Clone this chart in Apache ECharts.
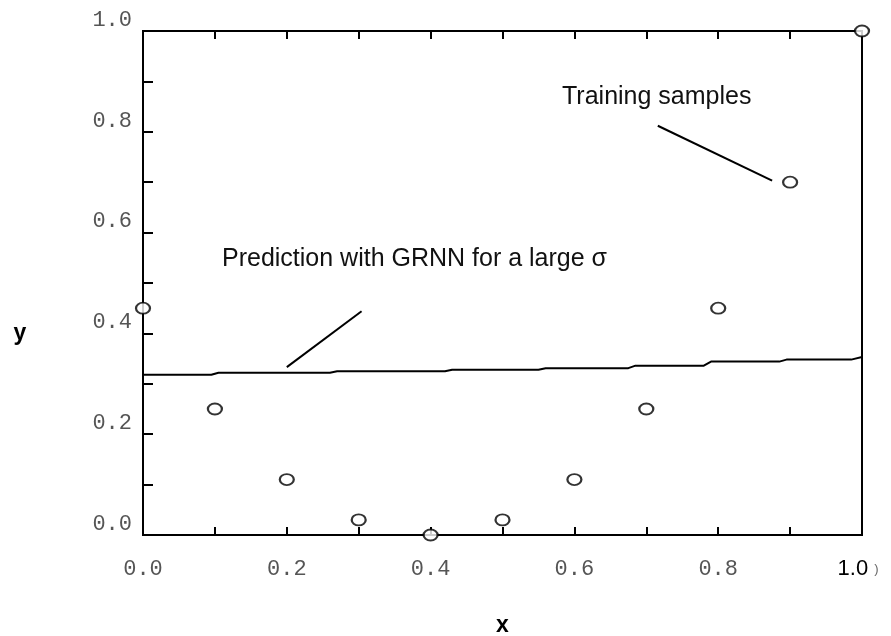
<!DOCTYPE html>
<html>
<head>
<meta charset="utf-8">
<script src="https://cdn.jsdelivr.net/npm/echarts@6/dist/echarts.min.js"></script>
<style>
  html, body { margin: 0; padding: 0; background: #fff; }
  #chart { width: 891px; height: 636px; }
</style>
</head>
<body>
<div id="chart"></div>
<script>
// training samples (x, y)
const sampleX = [0.0, 0.1, 0.2, 0.3, 0.4, 0.5, 0.6, 0.7, 0.8, 0.9, 1.0]
const sampleY = [0.45, 0.25, 0.11, 0.03, 0.0, 0.03, 0.11, 0.25, 0.45, 0.70, 1.0]

// GRNN prediction, large sigma (step-like)
const predX = [0.0, 0.095, 0.105, 0.26, 0.27, 0.42, 0.43, 0.55, 0.56, 0.675, 0.685, 0.78, 0.79, 0.885, 0.895, 0.985, 1.0]
const predY = [0.318, 0.318, 0.322, 0.322, 0.325, 0.325, 0.328, 0.328, 0.331, 0.331, 0.336, 0.336, 0.344, 0.344, 0.348, 0.348, 0.353]

// annotation leader lines, in data coords
const leaderSamples = [[0.716, 0.812], [0.875, 0.703]]
const leaderPred = [[0.200, 0.333], [0.304, 0.444]]

const chart = echarts.init(document.getElementById('chart'), null, { renderer: 'canvas' })

const monoLabel = { fontFamily: 'Liberation Mono', fontSize: 22, color: '#555' }
const tickStyle = { color: '#000', width: 2 }
const nameFont = 'bold 23px "Liberation Sans"'

const option = {
  animation: false,
  backgroundColor: '#fff',
  grid: {
    left: 143, right: 29, top: 31, bottom: 101,
    outerBoundsMode: 'none', containLabel: false,
    show: true, borderColor: '#000', borderWidth: 2, backgroundColor: 'transparent'
  },
  xAxis: [
    {
      type: 'value', min: 0, max: 1, interval: 0.2, position: 'bottom',
      name: 'x', nameLocation: 'middle', nameGap: 79,
      nameTextStyle: { fontFamily: 'Liberation Sans', fontWeight: 'bold', fontSize: 23, color: '#000' },
      axisLine: { show: true, lineStyle: tickStyle },
      axisTick: { show: true, inside: true, length: 8, lineStyle: tickStyle },
      minorTick: { show: true, splitNumber: 2, length: 8, lineStyle: tickStyle },
      splitLine: { show: false },
      axisLabel: {
        ...monoLabel, margin: 23,
        formatter: v => v === 1 ? '{b|1.0}{c|)}' : v.toFixed(1),
        rich: {
          b: { fontFamily: 'Liberation Sans', fontSize: 22, color: '#000' },
          c: { fontFamily: 'Liberation Sans', fontSize: 13, color: '#666', padding: [0, 8, 0, 6] }
        }
      }
    },
    {
      type: 'value', min: 0, max: 1, interval: 0.1, position: 'top',
      axisLine: { show: false },
      axisTick: { show: true, inside: true, length: 8, lineStyle: tickStyle },
      axisLabel: { show: false },
      splitLine: { show: false }
    }
  ],
  yAxis: [
    {
      type: 'value', min: 0, max: 1, interval: 0.2,
      axisLine: { show: true, lineStyle: tickStyle },
      axisTick: { show: true, inside: true, length: 10, lineStyle: tickStyle },
      minorTick: { show: true, splitNumber: 2, length: 10, lineStyle: tickStyle },
      splitLine: { show: false },
      axisLabel: { ...monoLabel, margin: 11, verticalAlign: 'bottom', formatter: v => v.toFixed(1) }
    }
  ],
  series: [
    {
      name: 'Prediction', type: 'line',
      data: predX.map((x, i) => [x, predY[i]]),
      showSymbol: false, symbol: 'none',
      lineStyle: { color: '#000', width: 2 },
      markLine: {
        silent: true, symbol: 'none',
        lineStyle: { color: '#000', width: 2, type: 'solid' },
        label: { show: false },
        data: [
          [{ coord: leaderSamples[0] }, { coord: leaderSamples[1] }],
          [{ coord: leaderPred[0] }, { coord: leaderPred[1] }]
        ]
      }
    },
    {
      name: 'Training samples', type: 'scatter',
      data: sampleX.map((x, i) => [x, sampleY[i]]),
      symbol: 'circle', symbolSize: [14, 11],
      itemStyle: { color: '#fff', borderColor: '#000', borderWidth: 2 },
      clip: false, z: 5
    }
  ],
  graphic: [
    { type: 'text', x: 20, y: 334, style: { text: 'y', font: nameFont, fill: '#000', align: 'center', verticalAlign: 'middle' } },
    { type: 'text', x: 562, y: 97, style: { text: 'Training samples', font: '25px "Liberation Sans"', fill: '#111', verticalAlign: 'middle' } },
    { type: 'text', x: 222, y: 259, style: { text: 'Prediction with GRNN for a large σ', font: '25px "Liberation Sans"', fill: '#111', verticalAlign: 'middle' } }
  ]
}

chart.setOption(option)
</script>
</body>
</html>
